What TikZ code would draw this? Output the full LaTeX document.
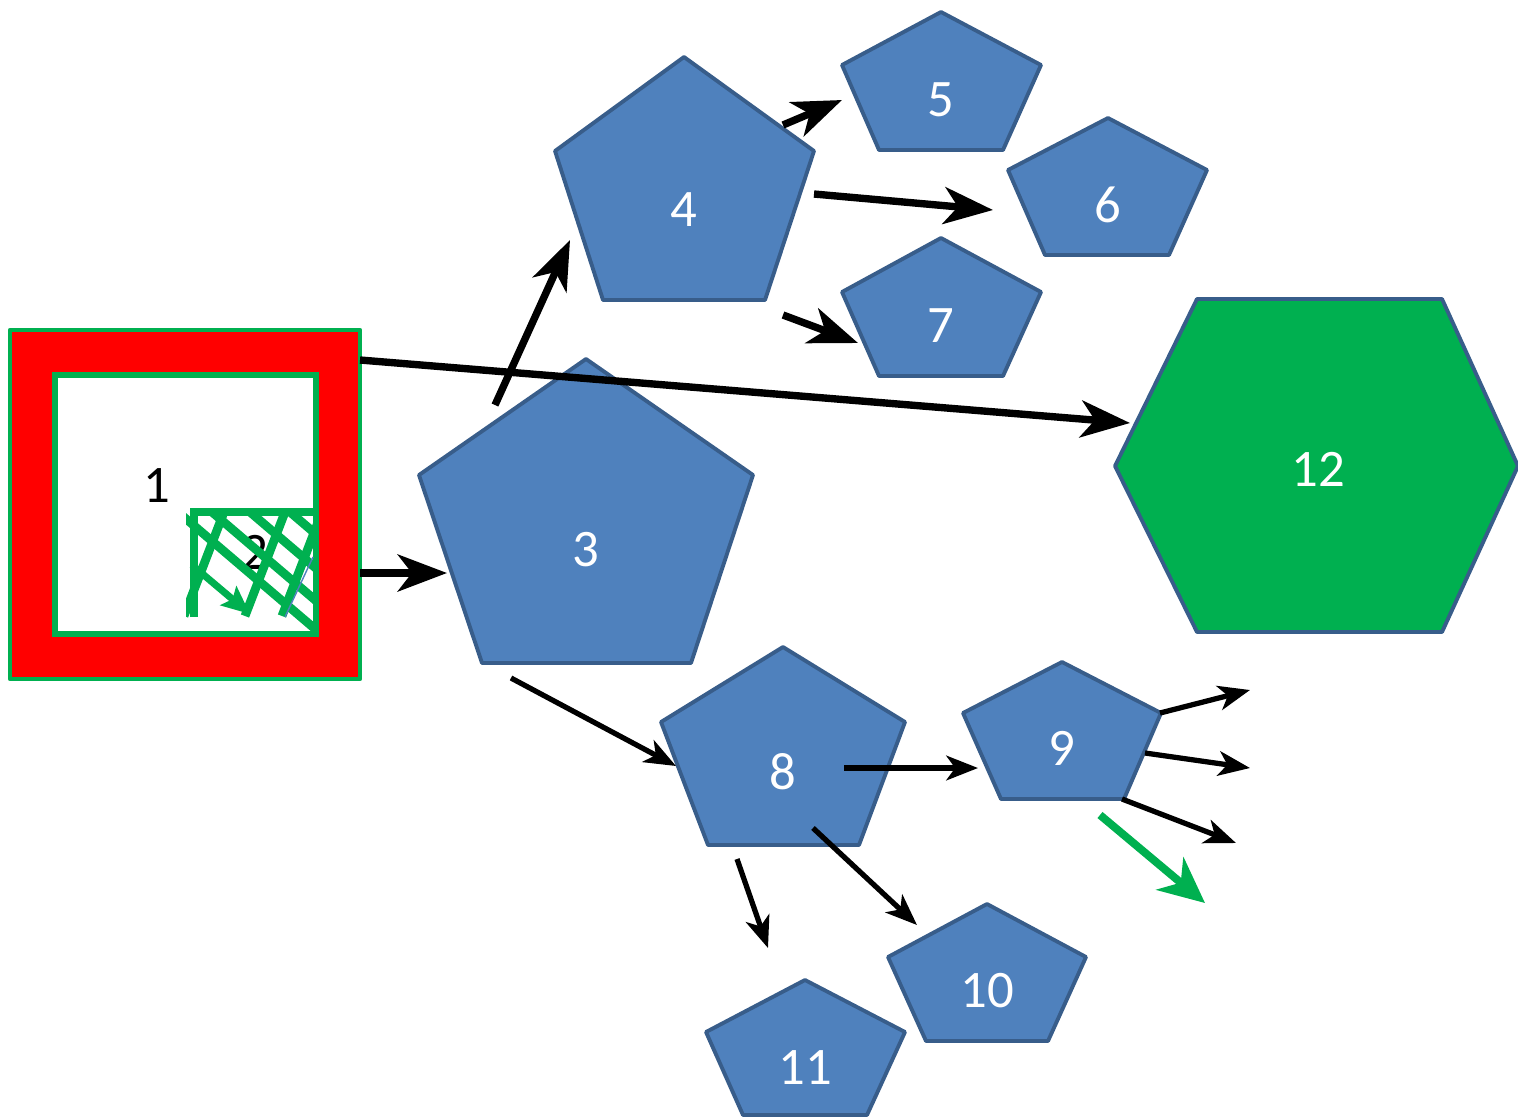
\documentclass[tikz,border=0pt]{standalone}
\usepackage{fontspec}
\setmainfont{Carlito}
\usetikzlibrary{arrows.meta}
\definecolor{pfill}{HTML}{4F81BD}
\definecolor{pline}{HTML}{385D8A}
\definecolor{gfill}{HTML}{00B050}
\definecolor{rfill}{HTML}{FF0000}
\begin{document}
\begin{tikzpicture}[x=0.02cm,y=-0.02cm,
  pent/.style={fill=pfill,draw=pline,line width=2.2pt,line join=round},
  hexa/.style={fill=gfill,draw=pline,line width=2.2pt,line join=round},
  lbl/.style={text=white,font=\fontsize{30}{36}\selectfont,inner sep=0pt},
  blbl/.style={text=black,font=\fontsize{30}{36}\selectfont,inner sep=0pt},
  bigarrow/.style={line width=4.2pt,-{Stealth[length=28pt,width=21pt,inset=8pt]}},
  thinarrow/.style={line width=3pt,-{Stealth[length=18pt,width=14pt,inset=5pt]}},
  greenarrow/.style={draw=gfill,line width=4.5pt,-{Stealth[length=26pt,width=24pt,inset=8pt]}},
  hatch/.style={draw=gfill,line width=5pt}]
\useasboundingbox (0,0) rectangle (1518,1117);

% square 1
\draw[fill=rfill,draw=gfill,line width=2.5pt,line join=round] (10,330) rectangle (360,679);
\draw[fill=white,draw=gfill,line width=3pt] (55,375) rectangle (316,634);
\node[blbl] (n1) at (157,486) {1};
\coordinate (n1e) at (360,573);
\coordinate (n1ne) at (360,360);

% box 2 with hatch
\node[blbl] (n2) at (255,552) {2};
\begin{scope}
\clip (186,506) rectangle (318,637);
\draw[hatch] (194,617) -- (194,512) -- (316,512);
\foreach \a in {178,212,250,290} {
  \draw[hatch] (\a,512) -- ++(150,128);
}
\foreach \b in {224,285,322} {
  \draw[hatch] (\b,512) -- ++(-40,104);
}
\end{scope}
\draw[draw=gfill,line width=4pt,-{Stealth[length=16pt,width=14pt,inset=3pt]}] (192,565) -- (250,614);
\draw[draw=pfill,line width=0.8pt] (285,617) -- (313,557);

% pentagon 3
\draw[pent] (586,359) -- (753,475) -- (691,663) -- (482,663) -- (419,475) -- cycle;
\node[lbl] (n3) at (586,550) {3};
% pentagon 4
\draw[pent] (684,57) -- (814,151) -- (765,300) -- (603,300) -- (555,151) -- cycle;
\node[lbl] (n4) at (684,210) {4};
% pentagon 5
\draw[pent] (941,12) -- (1041,65) -- (1003,150) -- (879,150) -- (842,65) -- cycle;
\node[lbl] (n5) at (941,100) {5};
% pentagon 6
\draw[pent] (1108,118) -- (1207,170) -- (1169,255) -- (1045,255) -- (1008,170) -- cycle;
\node[lbl] (n6) at (1108,205) {6};
% pentagon 7
\draw[pent] (941,238) -- (1041,292) -- (1003,376) -- (879,376) -- (842,292) -- cycle;
\node[lbl] (n7) at (941,326) {7};
% pentagon 8
\draw[pent] (783,647) -- (905,722) -- (859,845) -- (708,845) -- (661,722) -- cycle;
\node[lbl] (n8) at (783,772) {8};
% pentagon 9
\draw[pent] (1062,662) -- (1161,713) -- (1124,799) -- (1001,799) -- (963,713) -- cycle;
\node[lbl] (n9) at (1062,748) {9};
% pentagon 10
\draw[pent] (987,904) -- (1086,957) -- (1048,1041) -- (926,1041) -- (888,957) -- cycle;
\node[lbl] (n10) at (987,991) {10};
% pentagon 11
\draw[pent] (805,980) -- (905,1032) -- (867,1115) -- (743,1115) -- (706,1032) -- cycle;
\node[lbl] (n11) at (805,1068) {11};
% hexagon 12
\draw[hexa] (1197,299) -- (1442,299) -- (1518,466) -- (1442,632) -- (1197,632) -- (1115,466) -- cycle;
\node[lbl] (n12) at (1318,469) {12};

% connector end points
\coordinate (c3w) at (447,573);
\coordinate (c3n) at (495,405);
\coordinate (c4sw) at (570,240);
\coordinate (c4a) at (783,125);
\coordinate (c5w) at (842,100);
\coordinate (c4b) at (814,194);
\coordinate (c6w) at (993,210);
\coordinate (c4c) at (783,315);
\coordinate (c7w) at (858,343);
\coordinate (c12w) at (1130,423);
\coordinate (c3s) at (511,678);
\coordinate (c8w) at (676,766);
\coordinate (c8a) at (844,768);
\coordinate (c9w) at (978,768);
\coordinate (c8b) at (737,859);
\coordinate (c11n) at (768,948);
\coordinate (c8c) at (813,828);
\coordinate (c10n) at (917,925);
\coordinate (c9a) at (1160,713);
\coordinate (f1) at (1250,690);
\coordinate (c9b) at (1145,753);
\coordinate (f2) at (1250,768);
\coordinate (c9c) at (1122,799);
\coordinate (f3) at (1236,843);
\coordinate (g1) at (1100,815);
\coordinate (g2) at (1205,903);

% connectors
\draw[bigarrow] (n1e) -- (c3w);
\draw[bigarrow] (n1ne) -- (c12w);
\draw[bigarrow] (c3n) -- (c4sw);
\draw[bigarrow] (c4a) -- (c5w);
\draw[bigarrow] (c4b) -- (c6w);
\draw[bigarrow] (c4c) -- (c7w);
\draw[thinarrow] (c3s) -- (c8w);
\draw[thinarrow] (c8a) -- (c9w);
\draw[thinarrow] (c8b) -- (c11n);
\draw[thinarrow] (c8c) -- (c10n);
\draw[thinarrow] (c9a) -- (f1);
\draw[thinarrow] (c9b) -- (f2);
\draw[thinarrow] (c9c) -- (f3);
\draw[greenarrow] (g1) -- (g2);
\end{tikzpicture}
\end{document}
